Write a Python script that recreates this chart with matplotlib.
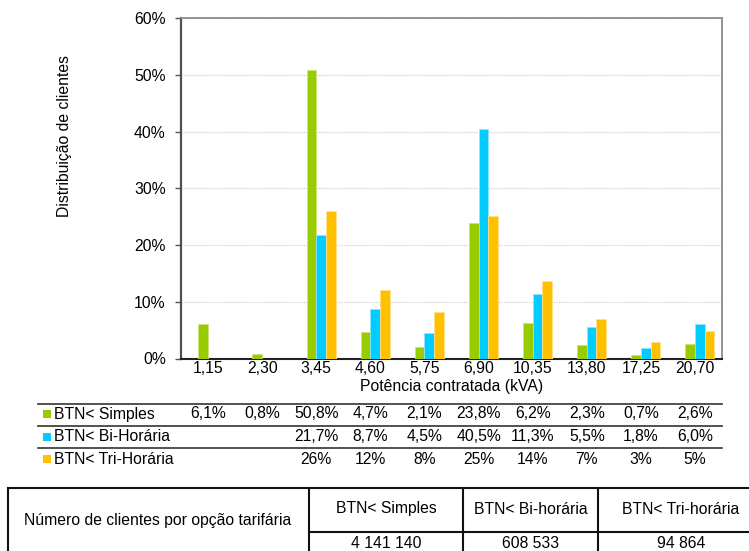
import matplotlib
matplotlib.use("Agg")
import matplotlib.pyplot as plt
import numpy as np
from matplotlib.lines import Line2D
from matplotlib.patches import Rectangle
from matplotlib.transforms import blended_transform_factory

plt.rcParams['font.family'] = ['Liberation Sans', 'DejaVu Sans']

categories = ["1,15", "2,30", "3,45", "4,60", "5,75", "6,90", "10,35", "13,80", "17,25", "20,70"]
series_names = ["BTN< Simples", "BTN< Bi-Horária", "BTN< Tri-Horária"]
simples = [6.1, 0.8, 50.8, 4.7, 2.1, 23.8, 6.2, 2.3, 0.7, 2.6]
bihoraria = [np.nan, np.nan, 21.7, 8.7, 4.5, 40.5, 11.3, 5.5, 1.8, 6.0]
trihoraria = [np.nan, np.nan, 26.0, 12.1, 8.2, 25.1, 13.6, 7.0, 2.9, 4.8]
simples_labels = ["6,1%", "0,8%", "50,8%", "4,7%", "2,1%", "23,8%", "6,2%", "2,3%", "0,7%", "2,6%"]
bihoraria_labels = ["", "", "21,7%", "8,7%", "4,5%", "40,5%", "11,3%", "5,5%", "1,8%", "6,0%"]
trihoraria_labels = ["", "", "26%", "12%", "8%", "25%", "14%", "7%", "3%", "5%"]
colors = ["#99CC00", "#00CCFF", "#FFC000"]
edge_colors = ["#C8E47A", "#8FE6FF", "#FFE08A"]

yticks = [0, 10, 20, 30, 40, 50, 60]
ytick_labels = ["0%", "10%", "20%", "30%", "40%", "50%", "60%"]

table_title = "Número de clientes por opção tarifária"
table_headers = ["BTN< Simples", "BTN< Bi-horária", "BTN< Tri-horária"]
table_values = ["4 141 140", "608 533", "94 864"]

FS = 11.3
W, H = 749, 551
fig = plt.figure(figsize=(W / 100, H / 100), dpi=100)

def fx(px):
    return px / W

def fy(py):
    return 1 - py / H

ax_l, ax_r, ax_t, ax_b = 181, 722, 18, 358.5
ax = fig.add_axes([fx(ax_l), fy(ax_b), fx(ax_r - ax_l), (ax_b - ax_t) / H])

x = np.arange(len(categories))
w = 0.18
offsets = [-0.5 * w, 0.5 * w, 1.5 * w]
for vals, off, c, ec in zip([simples, bihoraria, trihoraria], offsets, colors, edge_colors):
    ax.bar(x + off, vals, width=w, color=c, edgecolor=ec, linewidth=0.6, zorder=3)

ax.set_xlim(-0.5, len(categories) - 0.5)
ax.set_ylim(0, 60)
ax.set_yticks(yticks)
ax.set_yticklabels(ytick_labels, fontsize=FS)
ax.set_xticks(x)
ax.set_xticklabels(categories, fontsize=FS)
ax.tick_params(axis='x', length=0, pad=2)
ax.tick_params(axis='y', length=4, width=1, color='#555555', pad=7, direction='out')
ax.grid(axis='y', color='#cfcfcf', linestyle=(0, (1, 1)), linewidth=0.9, zorder=0)
ax.set_axisbelow(True)
ax.spines['left'].set_color('#505050')
ax.spines['left'].set_linewidth(1.6)
ax.spines['top'].set_color('#8a8a8a')
ax.spines['top'].set_linewidth(1.3)
ax.spines['right'].set_color('#8a8a8a')
ax.spines['right'].set_linewidth(1.3)
ax.spines['bottom'].set_color('#222222')
ax.spines['bottom'].set_linewidth(1.5)

fig.text(fx((ax_l + ax_r) / 2), fy(387), "Potência contratada (kVA)", ha='center', va='center', fontsize=FS)
fig.text(fx(64), fy(136), "Distribuição de clientes", ha='center', va='center', rotation=90, fontsize=FS)

# data table
for py in [404, 426, 448]:
    fig.add_artist(Line2D([fx(38), fx(722)], [fy(py), fy(py)], color='#333333', linewidth=1.2))

row_y = [414, 436.5, 459]
trans = blended_transform_factory(ax.transData, fig.transFigure)
for name, c, labels, ry in zip(series_names, colors,
                               [simples_labels, bihoraria_labels, trihoraria_labels], row_y):
    fig.add_artist(Rectangle((fx(43), fy(ry + 4)), fx(8), 8 / H, facecolor=c, edgecolor='none'))
    fig.text(fx(54), fy(ry), name, ha='left', va='center', fontsize=FS)
    for xi, lab in zip(x, labels):
        if lab:
            fig.text(xi, fy(ry), lab, ha='center', va='center', fontsize=FS, transform=trans)

# bottom table
lc = '#111111'
lw = 1.5
fig.add_artist(Line2D([fx(8), fx(8)], [fy(488), fy(560)], color=lc, linewidth=lw))
fig.add_artist(Line2D([fx(8), fx(760)], [fy(488), fy(488)], color=lc, linewidth=lw))
for px in [309, 463, 598]:
    fig.add_artist(Line2D([fx(px), fx(px)], [fy(488), fy(560)], color=lc, linewidth=lw))
fig.add_artist(Line2D([fx(309), fx(760)], [fy(532), fy(532)], color=lc, linewidth=lw))

fig.text(fx(158), fy(520), table_title, ha='center', va='center', fontsize=FS)
col_centers = [386, 530.5, 681]
for cx, hdr, val in zip(col_centers, table_headers, table_values):
    fig.text(fx(cx), fy(509), hdr, ha='center', va='center', fontsize=FS)
    fig.text(fx(cx), fy(544), val, ha='center', va='center', fontsize=FS)

fig.savefig("out.png", dpi=100)
